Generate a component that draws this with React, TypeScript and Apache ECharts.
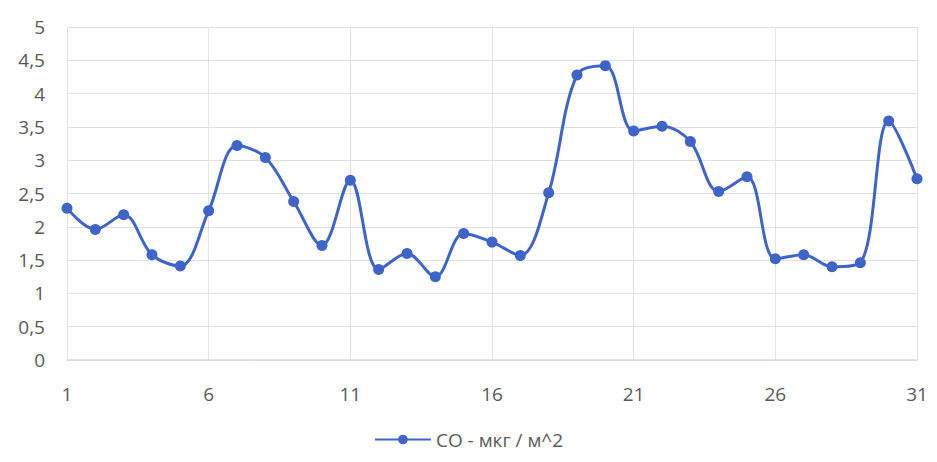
import React, { useEffect, useRef } from "react";
import * as echarts from "echarts";

const days: string[] = Array.from({ length: 31 }, (_, i) => String(i + 1));
const coValues: number[] = [
  2.28, 1.96, 2.18, 1.58, 1.41, 2.24, 3.22, 3.04, 2.38, 1.72,
  2.7, 1.36, 1.6, 1.25, 1.9, 1.77, 1.57, 2.51, 4.28, 4.42,
  3.44, 3.51, 3.28, 2.53, 2.75, 1.52, 1.58, 1.4, 1.46, 3.59,
  2.72,
];
const seriesName = "CO - мкг / м^2";

export default function App() {
  const ref = useRef<HTMLDivElement>(null);
  useEffect(() => {
    document.body.style.margin = "0";
    const chart = echarts.init(ref.current!, undefined, { renderer: "svg" });
    const font = "'Open Sans', 'Liberation Sans', sans-serif";
    chart.setOption({
      animation: false,
      backgroundColor: "#ffffff",
      textStyle: { fontFamily: font },
      grid: { left: 67, right: 20, top: 27, bottom: 102 },
      legend: {
        bottom: 8,
        left: "center",
        itemWidth: 56,
        itemHeight: 12,
        itemGap: 4,
        textStyle: { color: "#595959", fontSize: 19, fontFamily: font },
        data: [seriesName],
      },
      xAxis: {
        type: "category",
        data: days,
        boundaryGap: false,
        axisLine: { show: true, lineStyle: { color: "#d9d9d9", width: 1.5 } },
        axisTick: { show: false },
        axisLabel: {
          interval: 4,
          color: "#595959",
          fontSize: 19,
          margin: 24,
          fontFamily: font,
        },
        splitLine: {
          show: true,
          interval: 4,
          lineStyle: { color: "#e3e3e3", width: 1 },
        },
      },
      yAxis: {
        type: "value",
        min: 0,
        max: 5,
        interval: 0.5,
        axisLine: { show: false },
        axisTick: { show: false },
        axisLabel: {
          color: "#595959",
          fontSize: 19,
          margin: 22,
          fontFamily: font,
          formatter: (v: number) => String(v).replace(".", ","),
        },
        splitLine: { lineStyle: { color: "#e0e0e0", width: 1 } },
      },
      series: [
        {
          name: seriesName,
          type: "line",
          data: coValues,
          smooth: 0.35,
          symbol: "circle",
          symbolSize: 11,
          itemStyle: { color: "#3e64c8" },
          lineStyle: { color: "#3e64c8", width: 3 },
        },
      ],
    });
    return () => chart.dispose();
  }, []);
  return <div ref={ref} style={{ width: 937, height: 462 }} />;
}
